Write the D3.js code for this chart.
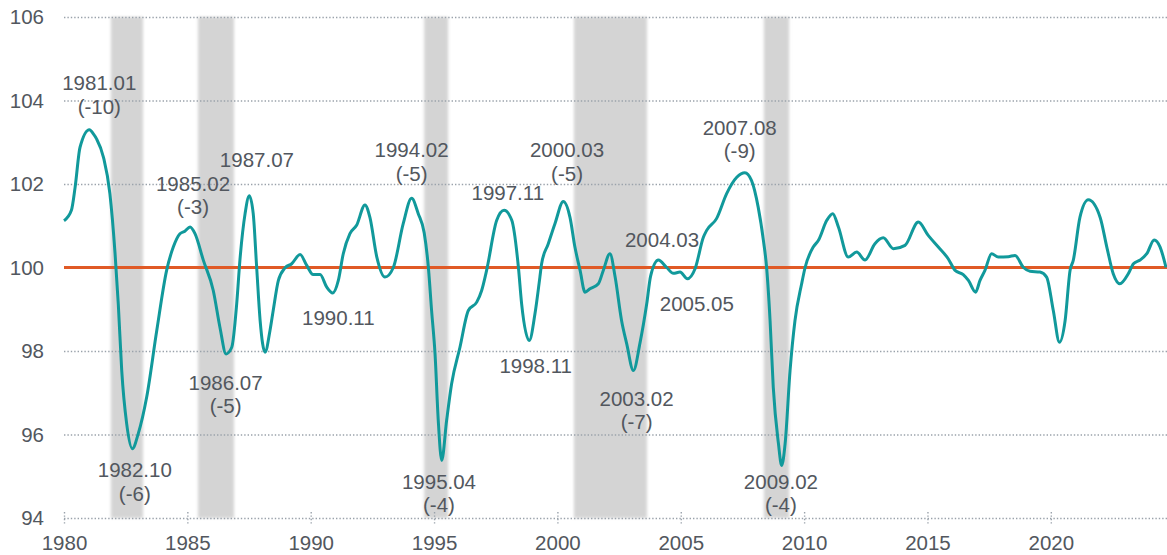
<!DOCTYPE html>
<html>
<head>
<meta charset="utf-8">
<script src="https://cdn.jsdelivr.net/npm/d3@7"></script>
<style>
  body { margin: 0; background: #fff; }
  svg { display: block; font-family: "Liberation Sans", Arial, sans-serif; }
  .grid line { stroke: #9aa2ab; stroke-width: 1.4; stroke-dasharray: 1.4,2; }
  .axis text { fill: #52575e; font-size: 20.5px; }
  .note { fill: #52575e; font-size: 20.5px; text-anchor: middle; }
</style>
</head>
<body>
<script>
// composite index, decimal year -> value
var years = [
  1980.0, 1980.3, 1980.45, 1980.65, 1981.03, 1981.19, 1981.32, 1981.6, 1981.86, 1982.07,
  1982.2, 1982.34, 1982.54, 1982.77, 1983.01, 1983.35, 1983.76, 1984.16, 1984.43, 1984.7,
  1984.9, 1985.11, 1985.31, 1985.65, 1986.05, 1986.32, 1986.57, 1986.8, 1987.0, 1987.13,
  1987.34, 1987.51, 1987.67, 1987.81, 1987.95, 1988.15, 1988.35, 1988.48, 1988.69, 1988.96,
  1989.23, 1989.57, 1989.84, 1990.1, 1990.38, 1990.65, 1990.89, 1991.12, 1991.32, 1991.59,
  1991.86, 1992.2, 1992.4, 1992.68, 1993.01, 1993.35, 1993.75, 1994.09, 1994.36, 1994.6,
  1994.77, 1994.9, 1995.04, 1995.17, 1995.31, 1995.51, 1995.71, 1996.05, 1996.39, 1996.73,
  1996.93, 1997.13, 1997.54, 1997.84, 1998.15, 1998.42, 1998.55, 1998.86, 1999.09, 1999.29,
  1999.36, 1999.63, 1999.9, 2000.24, 2000.51, 2000.71, 2000.92, 2001.12, 2001.32, 2001.66,
  2001.86, 2002.13, 2002.34, 2002.6, 2002.81, 2003.08, 2003.35, 2003.62, 2003.78, 2004.09,
  2004.43, 2004.7, 2004.97, 2005.27, 2005.58, 2005.92, 2006.05, 2006.45, 2006.86, 2007.27,
  2007.6, 2007.87, 2008.14, 2008.35, 2008.48, 2008.62, 2008.75, 2008.96, 2009.09, 2009.23,
  2009.43, 2009.63, 2009.9, 2010.04, 2010.37, 2010.58, 2010.92, 2011.16, 2011.39, 2011.79,
  2012.13, 2012.47, 2012.87, 2013.21, 2013.62, 2014.09, 2014.63, 2015.03, 2015.44, 2015.84,
  2016.12, 2016.45, 2016.66, 2016.95, 2017.13, 2017.33, 2017.6, 2017.87, 2018.28, 2018.55,
  2018.89, 2019.16, 2019.56, 2019.83, 2020.1, 2020.35, 2020.58, 2020.78, 2020.91, 2021.18,
  2021.52, 2022.0, 2022.27, 2022.53, 2022.8, 2023.14, 2023.35, 2023.62, 2023.89, 2024.19,
  2024.43, 2024.67
];
var values = [
  101.12, 101.37, 101.92, 102.88, 103.30, 103.20, 103.08, 102.64, 101.77, 100.33,
  99.13, 97.53, 96.26, 95.66, 96.02, 96.89, 98.49, 99.93, 100.49, 100.81,
  100.87, 100.97, 100.81, 100.17, 99.45, 98.57, 97.93, 98.09, 99.13, 100.17,
  101.29, 101.72, 101.29, 100.0, 98.73, 97.97, 98.49, 98.97, 99.69, 99.99,
  100.09, 100.31, 100.05, 99.83, 99.83, 99.53, 99.39, 99.69, 100.33, 100.81,
  101.01, 101.5, 101.2, 100.25, 99.77, 100.0, 101.05, 101.66, 101.29, 100.83,
  100.0, 98.97, 97.93, 96.34, 95.38, 96.34, 97.21, 98.09, 98.97, 99.17,
  99.45, 99.93, 101.13, 101.37, 101.13, 100.0, 99.13, 98.25, 98.89, 99.77,
  100.09, 100.57, 101.05, 101.58, 101.2, 100.49, 99.93, 99.41, 99.49, 99.61,
  99.93, 100.33, 99.77, 98.73, 98.17, 97.53, 98.2, 99.13, 99.8, 100.18,
  100.0, 99.86, 99.89, 99.73, 99.97, 100.73, 100.89, 101.17, 101.77, 102.16,
  102.27, 102.08, 101.44, 100.65, 100.0, 98.73, 97.13, 95.78, 95.26, 95.78,
  97.53, 98.73, 99.61, 100.0, 100.49, 100.65, 101.13, 101.29, 100.97, 100.25,
  100.37, 100.18, 100.57, 100.71, 100.45, 100.53, 101.09, 100.77, 100.49, 100.21,
  99.93, 99.83, 99.69, 99.41, 99.69, 99.93, 100.33, 100.25, 100.26, 100.29,
  100.0, 99.91, 99.89, 99.77, 98.97, 98.21, 98.73, 99.93, 100.17, 101.2,
  101.62, 101.2, 100.49, 99.85, 99.61, 99.85, 100.09, 100.18, 100.33, 100.66,
  100.49, 100.0
];

// shaded periods (start, end) in decimal years
var shadeStart = [1981.9, 1985.43, 1994.6, 2000.67, 2008.37];
var shadeEnd   = [1983.2, 1986.89, 1995.57, 2003.63, 2009.39];

var yTicks = [94, 96, 98, 100, 102, 104, 106];
var xTicks = [1980, 1985, 1990, 1995, 2000, 2005, 2010, 2015, 2020];

// turning point notes: lines of text, anchored in data space (year, value of baseline)
var noteLines = [
  ["1981.01", "(-10)"], ["1982.10", "(-6)"], ["1985.02", "(-3)"], ["1987.07"],
  ["1986.07", "(-5)"], ["1990.11"], ["1994.02", "(-5)"], ["1997.11"],
  ["2000.03", "(-5)"], ["1995.04", "(-4)"], ["1998.11"], ["2003.02", "(-7)"],
  ["2004.03"], ["2005.05"], ["2007.08", "(-9)"], ["2009.02", "(-4)"]
];
var noteYear = [1981.43, 1982.87, 1985.23, 1987.82, 1986.55, 1991.12, 1994.09, 1997.99,
                2000.39, 1995.2, 1999.12, 2003.21, 2004.24, 2005.65, 2007.39, 2009.06];
var noteValue = [104.24, 94.98, 101.84, 102.40, 97.07, 98.63, 102.64, 101.62,
                 102.64, 94.70, 97.47, 96.69, 100.49, 98.97, 103.18, 94.70];

var width = 1167, height = 555;
var margin = { top: 17, right: 0, bottom: 37, left: 64 };

var svg = d3.select("body").append("svg")
  .attr("width", width)
  .attr("height", height);

var x = d3.scaleLinear()
  .domain([1980, 2024.75])
  .range([margin.left, 1168]);

var y = d3.scaleLinear()
  .domain([94, 106])
  .range([height - margin.bottom, margin.top]);

var defs = svg.append("defs");
defs.append("filter")
  .attr("id", "soft")
  .attr("x", "-20%").attr("width", "140%")
  .append("feGaussianBlur")
  .attr("stdDeviation", 1.6);

// shaded bands
svg.append("g")
  .attr("filter", "url(#soft)")
  .selectAll("rect")
  .data(shadeStart)
  .enter().append("rect")
  .attr("x", function(d) { return x(d); })
  .attr("width", function(d, i) { return x(shadeEnd[i]) - x(d); })
  .attr("y", y(106))
  .attr("height", y(94) - y(106))
  .style("fill", "#d4d4d4");

// y axis with grid lines
var yAxis = svg.append("g")
  .attr("class", "axis grid")
  .attr("transform", "translate(" + margin.left + ",0)")
  .call(d3.axisLeft(y).tickValues(yTicks).tickSize(-(width - margin.left)).tickPadding(20));
yAxis.select(".domain").remove();

// x axis
var xAxis = svg.append("g")
  .attr("class", "axis grid")
  .attr("transform", "translate(0," + (y(94) - 6) + ")")
  .call(d3.axisBottom(x).tickValues(xTicks).tickFormat(d3.format("d")).tickSize(12).tickPadding(11));
xAxis.select(".domain").remove();

// reference line at 100
svg.append("line")
  .attr("x1", x(1980)).attr("x2", width)
  .attr("y1", y(100)).attr("y2", y(100))
  .style("stroke", "#e05a26")
  .style("stroke-width", 3);

// series
var line = d3.line()
  .x(function(d) { return x(d); })
  .y(function(d, i) { return y(values[i]); })
  .curve(d3.curveMonotoneX);

svg.append("path")
  .datum(years)
  .attr("d", line)
  .style("fill", "none")
  .style("stroke", "#11999b")
  .style("stroke-width", 3)
  .style("stroke-linejoin", "round");

// notes
var notes = svg.append("g");
noteLines.forEach(function(lines, i) {
  var t = notes.append("text")
    .attr("class", "note")
    .attr("x", x(noteYear[i]))
    .attr("y", y(noteValue[i]));
  lines.forEach(function(s, j) {
    t.append("tspan")
      .attr("x", x(noteYear[i]))
      .attr("dy", j ? "1.15em" : 0)
      .text(s);
  });
});
</script>
</body>
</html>
